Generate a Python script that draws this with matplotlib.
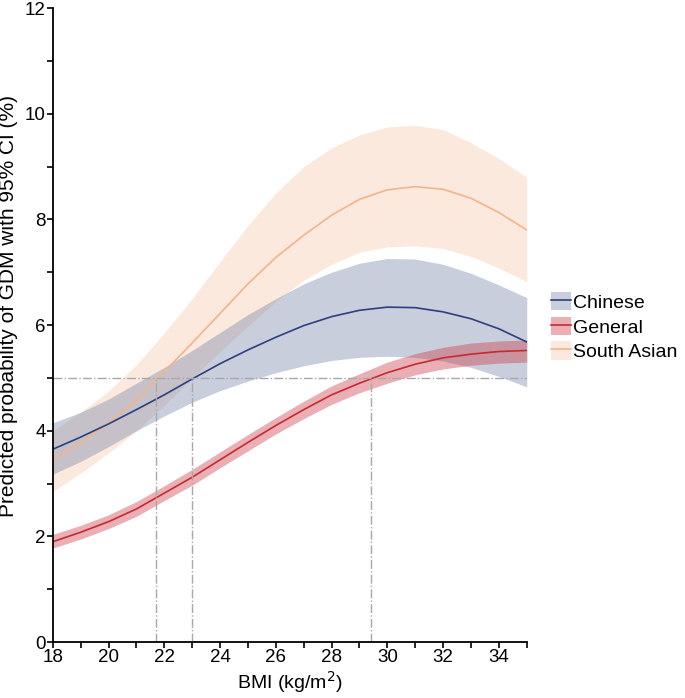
import matplotlib.pyplot as plt
from matplotlib.patches import Patch
from matplotlib.lines import Line2D
from matplotlib.ticker import MultipleLocator

plt.rcParams['font.family'] = ['Liberation Sans', 'DejaVu Sans']

bmi = [18, 19, 20, 21, 22, 23, 24, 25, 26, 27, 28, 29, 30, 31, 32, 33, 34, 35]

# predicted probability (%) and 95% CI
chinese = [3.65, 3.88, 4.13, 4.40, 4.68, 4.98, 5.27, 5.53, 5.77, 5.99, 6.16, 6.28, 6.34, 6.33, 6.25, 6.12, 5.93, 5.68]
chinese_hi = [4.15, 4.35, 4.60, 4.90, 5.20, 5.52, 5.86, 6.20, 6.50, 6.78, 7.00, 7.17, 7.26, 7.25, 7.15, 6.98, 6.76, 6.52]
chinese_lo = [3.18, 3.42, 3.70, 4.00, 4.28, 4.54, 4.76, 4.94, 5.10, 5.23, 5.33, 5.39, 5.41, 5.39, 5.32, 5.20, 5.03, 4.83]

general = [1.90, 2.08, 2.28, 2.52, 2.82, 3.12, 3.45, 3.78, 4.10, 4.40, 4.68, 4.90, 5.10, 5.26, 5.38, 5.45, 5.50, 5.52]
general_hi = [2.04, 2.21, 2.41, 2.66, 2.96, 3.27, 3.60, 3.93, 4.25, 4.56, 4.85, 5.08, 5.30, 5.46, 5.58, 5.66, 5.70, 5.72]
general_lo = [1.78, 1.95, 2.15, 2.38, 2.68, 2.97, 3.30, 3.62, 3.94, 4.23, 4.50, 4.72, 4.90, 5.06, 5.17, 5.24, 5.28, 5.30]

south_asian = [3.45, 3.78, 4.14, 4.58, 5.12, 5.66, 6.22, 6.78, 7.28, 7.70, 8.08, 8.38, 8.56, 8.62, 8.57, 8.40, 8.13, 7.80]
south_asian_hi = [4.00, 4.35, 4.75, 5.25, 5.85, 6.50, 7.20, 7.88, 8.50, 9.00, 9.35, 9.60, 9.75, 9.78, 9.70, 9.45, 9.15, 8.80]
south_asian_lo = [2.85, 3.20, 3.58, 4.00, 4.48, 5.00, 5.50, 5.98, 6.45, 6.85, 7.15, 7.38, 7.48, 7.50, 7.45, 7.30, 7.08, 6.82]

# BMI where each curve crosses 5%
threshold = 5
cutoffs = [21.7, 23.0, 29.4]

c_ch, f_ch = '#2e3f7f', '#7885aa'
c_ge, f_ge = '#c62a2f', '#ca3944'
c_sa, f_sa = '#f2b58a', '#f5c8aa'

fig = plt.figure(figsize=(6.85, 6.98), dpi=100)
ax = fig.add_axes([0.077, 0.080, 0.692, 0.9085])

ax.fill_between(bmi, south_asian_lo, south_asian_hi, color=f_sa, alpha=0.4, lw=0)
ax.fill_between(bmi, chinese_lo, chinese_hi, color=f_ch, alpha=0.4, lw=0)
ax.fill_between(bmi, general_lo, general_hi, color=f_ge, alpha=0.4, lw=0)

ax.plot(bmi, south_asian, color=c_sa, lw=1.2)
ax.plot(bmi, chinese, color=c_ch, lw=1.2)
ax.plot(bmi, general, color=c_ge, lw=1.2)

ax.axhline(threshold, color='#a8a8a8', ls='-.', lw=1)
for xc in cutoffs:
    ax.plot([xc, xc], [0, threshold], color='#a8a8a8', ls='-.', lw=1)

ax.set_xlim(18, 35)
ax.set_ylim(0, 12)
ax.xaxis.set_major_locator(MultipleLocator(2))
ax.xaxis.set_minor_locator(MultipleLocator(1))
ax.yaxis.set_major_locator(MultipleLocator(2))
ax.yaxis.set_minor_locator(MultipleLocator(1))
ax.tick_params(which='both', direction='out', labelsize=13.5, width=1.2, pad=1, length=4)
for s in ['top', 'right']:
    ax.spines[s].set_visible(False)
for s in ['left', 'bottom']:
    ax.spines[s].set_linewidth(1.3)

ax.set_xlabel('BMI (kg/m$^2$)', fontsize=14, labelpad=2)
ax.set_ylabel('Predicted probability of GDM with 95% CI (%)', fontsize=15)
ax.yaxis.set_label_coords(-0.074, 0.53)

handles = [
    (Patch(facecolor=f_ch, alpha=0.4), Line2D([], [], color=c_ch, lw=1.2)),
    (Patch(facecolor=f_ge, alpha=0.4), Line2D([], [], color=c_ge, lw=1.2)),
    (Patch(facecolor=f_sa, alpha=0.4), Line2D([], [], color=c_sa, lw=1.2)),
]
fig.legend(handles, ['Chinese', 'General', 'South Asian'], loc='upper left',
           bbox_to_anchor=(0.804, 0.582), frameon=False, fontsize=14,
           handlelength=1.05, handleheight=1.1, handletextpad=0.1, labelspacing=0.25,
           borderpad=0, borderaxespad=0)

fig.savefig('out.png', dpi=100)
